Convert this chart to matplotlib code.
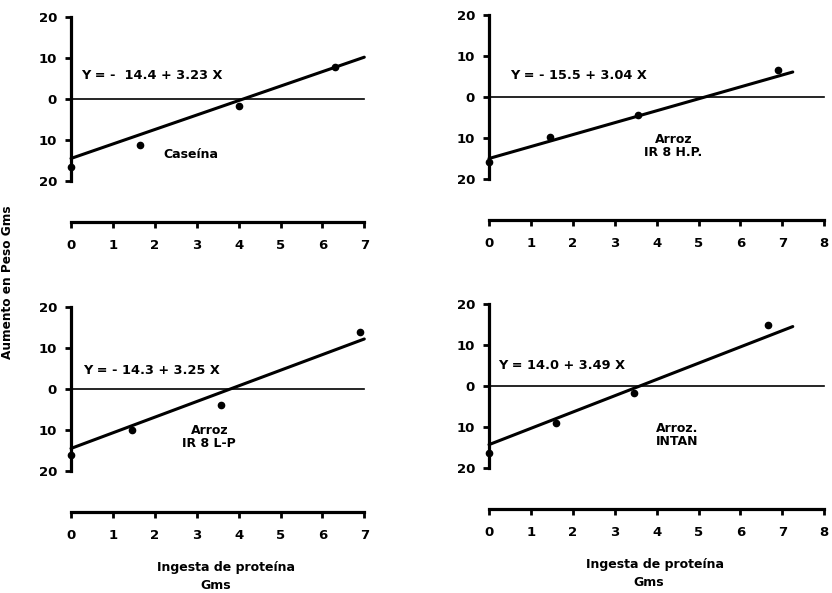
import matplotlib
matplotlib.use("Agg")
import matplotlib.pyplot as plt

plt.rcParams['font.family'] = ['DejaVu Sans']
plt.rcParams['font.weight'] = 'bold'

# measured points for each diet
x_caseina = [0, 1.65, 4.0, 6.3]
y_caseina = [-16.5, -11.1, -1.8, 7.8]
x_hp = [0, 1.45, 3.56, 6.9]
y_hp = [-15.9, -9.7, -4.3, 6.7]
x_lp = [0, 1.45, 3.57, 6.9]
y_lp = [-16.0, -9.9, -3.9, 14.0]
x_intan = [0, 1.6, 3.46, 6.66]
y_intan = [-16.3, -9.1, -1.8, 14.8]

# regression lines as drawn (end points)
fit_x_caseina = [0, 7.0]
fit_y_caseina = [-14.5, 10.2]
fit_x_hp = [0, 7.25]
fit_y_hp = [-15.0, 6.1]
fit_x_lp = [0, 7.0]
fit_y_lp = [-14.5, 12.2]
fit_x_intan = [0, 7.25]
fit_y_intan = [-14.3, 14.5]

equations = ["Y = -  14.4 + 3.23 X", "Y = - 15.5 + 3.04 X",
             "Y = - 14.3 + 3.25 X", "Y = 14.0 + 3.49 X"]
labels = ["Caseína", "Arroz\nIR 8 H.P.", "Arroz\nIR 8 L-P", "Arroz.\nINTAN"]
xmax = [7, 8, 7, 8]

y_ticks = [-20, -10, 0, 10, 20]
y_ticklabels = ["20", "10", "0", "10", "20"]

W, H = 832, 593
fig = plt.figure(figsize=(W / 100, H / 100), dpi=100)

px_x = 41.9   # pixels per x unit
px_y = 4.1    # pixels per y unit
xlo, xhi = -0.3, 8.3
ylo, yhi = -33, 23


def make_axes(x0_px, y0_px):
    # x0_px: pixel of x=0, y0_px: pixel of y=0 (from top)
    left = x0_px + xlo * px_x
    top = y0_px - yhi * px_y
    w = (xhi - xlo) * px_x
    h = (yhi - ylo) * px_y
    ax = fig.add_axes([left / W, 1 - (top + h) / H, w / W, h / H])
    ax.set_xlim(xlo, xhi)
    ax.set_ylim(ylo, yhi)
    return ax


panels = [
    (make_axes(71, 99), x_caseina, y_caseina, fit_x_caseina, fit_y_caseina,
     (0.25, 4.1), (2.2, -13.6, 'left')),
    (make_axes(489, 97), x_hp, y_hp, fit_x_hp, fit_y_hp,
     (0.5, 3.7), (4.4, -12.0, 'center')),
    (make_axes(71, 389), x_lp, y_lp, fit_x_lp, fit_y_lp,
     (0.3, 2.9), (3.3, -11.6, 'center')),
    (make_axes(489, 386), x_intan, y_intan, fit_x_intan, fit_y_intan,
     (0.22, 3.5), (4.5, -11.9, 'center')),
]

for i, (ax, xs, ys, fx, fy, eqpos, labpos) in enumerate(panels):
    for s in ['top', 'right']:
        ax.spines[s].set_visible(False)
    ax.spines['left'].set_position(('data', 0))
    ax.spines['left'].set_bounds(-20, 20)
    ax.spines['left'].set_linewidth(2.3)
    ax.spines['bottom'].set_position(('data', -30))
    ax.spines['bottom'].set_bounds(0, xmax[i])
    ax.spines['bottom'].set_linewidth(2.3)

    ax.set_yticks(y_ticks)
    ax.set_yticklabels(y_ticklabels)
    ax.set_xticks(range(0, xmax[i] + 1))
    ax.tick_params(axis='both', direction='out', length=4, width=2,
                   labelsize=9.5)
    ax.tick_params(axis='x', pad=8)
    ax.tick_params(axis='y', pad=6)
    for lab in ax.get_xticklabels() + ax.get_yticklabels():
        lab.set_fontweight('bold')

    ax.axhline(0, xmin=(0 - xlo) / (xhi - xlo),
               xmax=(xmax[i] - xlo) / (xhi - xlo), color='black', lw=1.2)
    ax.plot(fx, fy, color='black', lw=2.2, solid_capstyle='round')
    ax.plot(xs, ys, 'o', color='black', markersize=4.5)

    ax.text(eqpos[0], eqpos[1], equations[i], fontsize=9.3,
            fontweight='bold', va='bottom', ha='left')
    ax.text(labpos[0], labpos[1], labels[i], fontsize=9,
            fontweight='bold', va='center', ha=labpos[2],
            multialignment='center', linespacing=1.0)

# x axis titles for the bottom panels
ax3 = panels[2][0]
ax4 = panels[3][0]
ax3.text(3.7, -43.5, "Ingesta de proteína", fontsize=9, fontweight='bold',
         ha='center', va='center', clip_on=False)
ax3.text(3.46, -48, "Gms", fontsize=9, fontweight='bold',
         ha='center', va='center', clip_on=False)
ax4.text(3.96, -43.5, "Ingesta de proteína", fontsize=9,
         ha='center', va='center', clip_on=False)
ax4.text(3.8, -48, "Gms", fontsize=9,
         ha='center', va='center', clip_on=False)

fig.text(8 / W, 1 - 282 / H, "Aumento en Peso Gms", rotation=90,
         fontsize=8.7, fontweight='bold', ha='center', va='center')

fig.savefig("out.png", dpi=100, facecolor='white')
